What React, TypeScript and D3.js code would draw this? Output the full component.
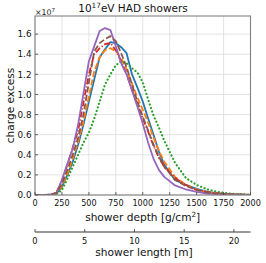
import React from "react";
import * as d3 from "d3";

const depths = [0, 100, 150, 200, 250, 300, 350, 400, 450, 500, 550, 600, 650, 700, 750, 800, 850, 900, 950, 1000, 1050, 1100, 1150, 1200, 1300, 1400, 1500, 1600, 1700, 1800, 1900, 2000];

const blue = [0, 0, 0.003, 0.015, 0.08, 0.2, 0.33, 0.5, 0.7, 0.93, 1.15, 1.37, 1.45, 1.52, 1.51, 1.47, 1.41, 1.2, 1.07, 0.93, 0.76, 0.6, 0.43, 0.3, 0.15, 0.1, 0.06, 0.03, 0.015, 0.007, 0.003, 0.001];
const orange = [0, 0, 0.003, 0.015, 0.09, 0.21, 0.36, 0.53, 0.73, 0.98, 1.23, 1.37, 1.44, 1.46, 1.43, 1.36, 1.25, 1.11, 0.97, 0.85, 0.72, 0.57, 0.44, 0.33, 0.18, 0.1, 0.055, 0.028, 0.013, 0.006, 0.003, 0.001];
const green = [0, 0, 0.002, 0.01, 0.05, 0.16, 0.28, 0.4, 0.52, 0.62, 0.76, 0.93, 1.1, 1.2, 1.29, 1.33, 1.31, 1.26, 1.22, 1.12, 0.95, 0.79, 0.67, 0.54, 0.32, 0.17, 0.1, 0.055, 0.03, 0.015, 0.008, 0.004];
const red = [0, 0, 0.004, 0.03, 0.14, 0.3, 0.47, 0.64, 0.92, 1.2, 1.4, 1.46, 1.5, 1.51, 1.44, 1.33, 1.2, 1.05, 0.9, 0.76, 0.63, 0.49, 0.37, 0.28, 0.17, 0.1, 0.05, 0.03, 0.015, 0.008, 0.004, 0.002];
const purple = [0, 0, 0.005, 0.02, 0.15, 0.31, 0.46, 0.7, 1.01, 1.33, 1.48, 1.63, 1.66, 1.64, 1.48, 1.31, 1.2, 1.04, 0.88, 0.71, 0.52, 0.36, 0.25, 0.18, 0.095, 0.055, 0.03, 0.015, 0.008, 0.004, 0.002, 0.001];
const brown = [0, 0, 0.004, 0.02, 0.11, 0.25, 0.4, 0.57, 0.8, 1.12, 1.43, 1.51, 1.55, 1.58, 1.53, 1.41, 1.27, 1.1, 0.93, 0.78, 0.64, 0.5, 0.38, 0.28, 0.15, 0.09, 0.05, 0.025, 0.012, 0.006, 0.003, 0.001];

const xTicks = [0, 250, 500, 750, 1000, 1250, 1500, 1750, 2000];
const yTicks = [0, 0.2, 0.4, 0.6, 0.8, 1.0, 1.2, 1.4, 1.6];
const lenTicks = [0, 5, 10, 15, 20];

const series = [
  { name: "blue", values: blue, color: "#1f77b4", dash: "" },
  { name: "orange", values: orange, color: "#ff7f0e", dash: "6,2.5" },
  { name: "green", values: green, color: "#2ca02c", dash: "0.1,3.6" },
  { name: "red", values: red, color: "#d62728", dash: "6,2,1.2,2" },
  { name: "purple", values: purple, color: "#9467bd", dash: "" },
  { name: "brown", values: brown, color: "#8c564b", dash: "6,2.5" },
];

export default function App() {
  const L = 35, R = 250.5, T = 16, B = 195;
  const x = d3.scaleLinear().domain([0, 2000]).range([L, R]);
  const y = d3.scaleLinear().domain([0, 1.78]).range([B, T]);
  const xl = d3.scaleLinear().domain([0, 2000 / 92.3]).range([L, R]);
  const line = d3.line<number>().x((_, i) => x(depths[i])).y((d) => y(d));
  const font = "DejaVu Sans, sans-serif";
  return (
    <svg width={266} height={263} style={{ position: "absolute", left: 0, top: 0 }} fontFamily={font}>
      <rect width={266} height={263} fill="#fff" />
      <defs>
        <clipPath id="plot">
          <rect x={L} y={T} width={R - L} height={B - T} />
        </clipPath>
      </defs>
      {xTicks.map((t) => (
        <line key={"gx" + t} x1={x(t)} x2={x(t)} y1={T} y2={B} stroke="#dcdcdc" strokeWidth={0.8} />
      ))}
      {yTicks.map((t) => (
        <line key={"gy" + t} x1={L} x2={R} y1={y(t)} y2={y(t)} stroke="#dcdcdc" strokeWidth={0.8} />
      ))}
      <g clipPath="url(#plot)">
        {series.map((s) => (
          <path key={s.name} d={line(s.values) || ""} fill="none" stroke={s.color}
            strokeWidth={s.name === "green" ? 2.2 : 1.8} strokeDasharray={s.dash || undefined}
            strokeLinecap={s.name === "green" ? "round" : "butt"} strokeLinejoin="round" />
        ))}
      </g>
      <rect x={L} y={T} width={R - L} height={B - T} fill="none" stroke="#808080" strokeWidth={1.1} />
      {xTicks.map((t) => (
        <g key={"tx" + t}>
          <line x1={x(t)} x2={x(t)} y1={B} y2={B - 3} stroke="#444" strokeWidth={0.8} />
          <text x={x(t)} y={206} fontSize={8.1} textAnchor="middle" fill="#111">{t}</text>
        </g>
      ))}
      {yTicks.map((t) => (
        <g key={"ty" + t}>
          <line x1={L} x2={L + 3} y1={y(t)} y2={y(t)} stroke="#444" strokeWidth={0.8} />
          <text x={31.5} y={y(t) + 3.2} fontSize={8.8} textAnchor="end" fill="#111">{t.toFixed(1)}</text>
        </g>
      ))}
      <text x={35} y={15} fontSize={7.8} fill="#222">×10<tspan dy={-3.5} fontSize={5.6}>7</tspan></text>
      <text x={133} y={12} fontSize={10.5} textAnchor="middle" fill="#111">10<tspan dy={-4} fontSize={7.3}>17</tspan><tspan dy={4}>eV HAD showers</tspan></text>
      <text x={142.7} y={221} fontSize={10.6} textAnchor="middle" fill="#111">shower depth [g/cm<tspan dy={-3.8} fontSize={7.2}>2</tspan><tspan dy={3.8}>]</tspan></text>
      <text transform={`translate(13.5,${(T + B) / 2}) rotate(-90)`} fontSize={10.6} textAnchor="middle" fill="#111">charge excess</text>
      <line x1={L} x2={R} y1={232} y2={232} stroke="#333" strokeWidth={1} />
      {lenTicks.map((t) => (
        <g key={"tl" + t}>
          <line x1={xl(t)} x2={xl(t)} y1={232} y2={229} stroke="#333" strokeWidth={0.8} />
          <text x={xl(t)} y={244} fontSize={8.3} textAnchor="middle" fill="#111">{t}</text>
        </g>
      ))}
      <text x={144} y={255.5} fontSize={10.6} textAnchor="middle" fill="#111">shower length [m]</text>
    </svg>
  );
}
